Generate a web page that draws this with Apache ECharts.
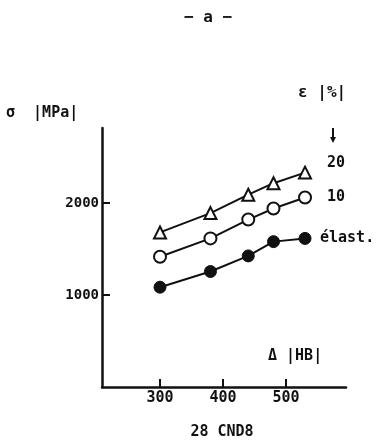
<!DOCTYPE html>
<html>
<head>
<meta charset="utf-8">
<script src="https://cdn.jsdelivr.net/npm/echarts@6/dist/echarts.min.js"></script>
<style>html,body{margin:0;padding:0;background:#fff}#c{width:384px;height:443px}</style>
</head>
<body>
<div id="c"></div>
<script>
const hardness = [300, 380, 440, 480, 530];
const stress20 = [1680, 1890, 2090, 2215, 2330];
const stress10 = [1415, 1615, 1820, 1940, 2060];
const stressElast = [1085, 1255, 1425, 1580, 1615];
const xTickLabels = [300, 400, 500];
const yTickLabels = [1000, 2000];
const seriesLabels = ['20', '10', 'élast.'];

const FONT = '"DejaVu Sans Mono", "Liberation Mono", monospace';
const pairs = a => hardness.map((x, i) => [x, a[i]]);

const chart = echarts.init(document.getElementById('c'), null, {renderer: 'canvas'});
const T = (x, y, t, opts) => Object.assign({
  type: 'text', x: x, y: y,
  style: Object.assign({text: t, font: 'bold 15px ' + FONT, fill: '#111', verticalAlign: 'middle'}, (opts || {}))
});
chart.setOption({
  animation: false,
  backgroundColor: '#fff',
  grid: {left: 102, right: 38, top: 128, bottom: 56},
  xAxis: {
    type: 'value', min: 208, max: 595,
    axisLine: {show: true, onZero: false, lineStyle: {color: '#111', width: 2.5}},
    axisTick: {show: true, inside: true, length: 8, lineStyle: {color: '#111', width: 2}, customValues: xTickLabels},
    axisLabel: {show: true, customValues: xTickLabels, color: '#111', fontFamily: FONT, fontWeight: 'bold', fontSize: 15, margin: 4,
      formatter: v => String(v)},
    splitLine: {show: false}
  },
  yAxis: {
    type: 'value', min: 0, max: 2815,
    axisLine: {show: true, onZero: false, lineStyle: {color: '#111', width: 2.5}},
    axisTick: {show: true, inside: true, length: 8, lineStyle: {color: '#111', width: 2}, customValues: yTickLabels},
    axisLabel: {show: true, customValues: yTickLabels, color: '#111', fontFamily: FONT, fontWeight: 'bold', fontSize: 14, margin: 3,
      formatter: v => String(v)},
    splitLine: {show: false}
  },
  series: [
    {type: 'line', data: pairs(stress20), symbol: 'triangle', symbolSize: 12,
     lineStyle: {color: '#111', width: 2}, itemStyle: {color: '#fff', borderColor: '#111', borderWidth: 2}, z: 3},
    {type: 'line', data: pairs(stress10), symbol: 'circle', symbolSize: 12,
     lineStyle: {color: '#111', width: 2}, itemStyle: {color: '#fff', borderColor: '#111', borderWidth: 2}, z: 3},
    {type: 'line', data: pairs(stressElast), symbol: 'circle', symbolSize: 12,
     lineStyle: {color: '#111', width: 2}, itemStyle: {color: '#111', borderColor: '#111', borderWidth: 1}, z: 3}
  ],
  graphic: [
    T(208, 18, '− a −', {align: 'center', font: 'bold 16px ' + FONT}),
    T(6, 113, 'σ  |MPa|'),
    T(298, 93, 'ε |%|', {font: 'bold 16px ' + FONT}),
    {type: 'line', shape: {x1: 333, y1: 128, x2: 333, y2: 138}, style: {stroke: '#111', lineWidth: 2}},
    {type: 'polygon', shape: {points: [[330, 137], [336, 137], [333, 143]]}, style: {fill: '#111'}},
    T(327, 163, seriesLabels[0]),
    T(327, 197, seriesLabels[1]),
    T(320, 238, seriesLabels[2]),
    T(268, 356, 'Δ |HB|'),
    T(222, 432, '28 CND8', {align: 'center'})
  ]
});
</script>
</body>
</html>
